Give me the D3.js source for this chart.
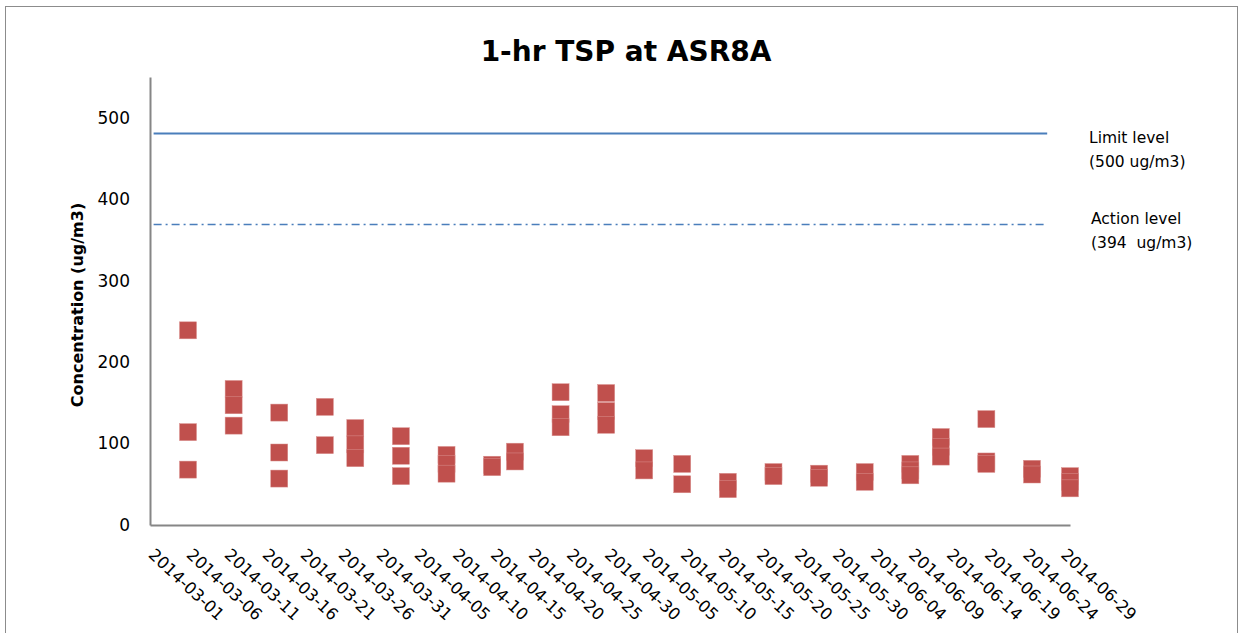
<!DOCTYPE html>
<html>
<head>
<meta charset="utf-8">
<script src="https://cdnjs.cloudflare.com/ajax/libs/d3/7.8.5/d3.min.js"></script>
<style>
  body { margin: 0; background: #fff; }
  svg text { font-family: "DejaVu Sans", sans-serif; }
</style>
</head>
<body>
<svg id="chart" width="1242" height="633"></svg>
<script>
// sampling days and up to three 1-hr readings per day (ug/m3)
var sampleDates = ["2014-03-06", "2014-03-12", "2014-03-18", "2014-03-24", "2014-03-28",
                   "2014-04-03", "2014-04-09", "2014-04-15", "2014-04-18", "2014-04-24",
                   "2014-04-30", "2014-05-05", "2014-05-10", "2014-05-16", "2014-05-22",
                   "2014-05-28", "2014-06-03", "2014-06-09", "2014-06-13", "2014-06-19",
                   "2014-06-25", "2014-06-30"];
var reading1 = [239, 167, 138, 145, 119, 109, 86, 74, 90, 163, 162, 82, 75, 53, 65, 63, 65, 75, 108, 130, 69, 60];
var reading2 = [114, 147, 89, 98, 99, 85, 75, 71, 78, 136, 140, 67, 50, 44, 60, 58, 53, 67, 96, 78, 62, 53];
var reading3 = [68, 122, 57, null, 82, 60, 63, null, null, 120, 123, null, null, null, null, null, null, 61, 84, 75, null, 45];

var xTickLabels = ["2014-03-01", "2014-03-06", "2014-03-11", "2014-03-16", "2014-03-21",
                   "2014-03-26", "2014-03-31", "2014-04-05", "2014-04-10", "2014-04-15",
                   "2014-04-20", "2014-04-25", "2014-04-30", "2014-05-05", "2014-05-10",
                   "2014-05-15", "2014-05-20", "2014-05-25", "2014-05-30", "2014-06-04",
                   "2014-06-09", "2014-06-14", "2014-06-19", "2014-06-24", "2014-06-29"];
var yTicks = [0, 100, 200, 300, 400, 500];

// reference lines as drawn on the chart
var levelNames = ["limit", "action"];
var levelValues = [481, 369];
var levelLabels = [["Limit level", "(500 ug/m3)"], ["Action level", "(394  ug/m3)"]];
var levelSpan = ["2014-03-02", "2014-06-27"];

var parse = d3.utcParse("%Y-%m-%d");
var svg = d3.select("#chart");

svg.append("rect")
    .attr("x", 5.5).attr("y", 6.5)
    .attr("width", 1232).attr("height", 640)
    .attr("fill", "none").attr("stroke", "#8c8c8c").attr("stroke-width", 1);

var x = d3.scaleUtc()
    .domain([parse("2014-03-01"), parse("2014-06-30")])
    .range([150, 1070]);
var y = d3.scaleLinear().domain([0, 550]).range([525, 77]);

svg.append("text")
    .attr("x", 626).attr("y", 61)
    .attr("text-anchor", "middle")
    .attr("font-size", 28).attr("font-weight", "bold")
    .text("1-hr TSP at ASR8A");

// y axis
var yAxis = svg.append("g")
    .attr("transform", "translate(150,0)")
    .call(d3.axisLeft(y).tickValues(yTicks).tickSize(0).tickPadding(20));
yAxis.select(".domain").attr("stroke", "#868686").attr("stroke-width", 2);
yAxis.selectAll("text").attr("font-size", 17).attr("fill", "#000")
    .attr("font-family", "DejaVu Sans");

svg.append("text")
    .attr("transform", "translate(83,305) rotate(-90)")
    .attr("text-anchor", "middle")
    .attr("font-size", 16).attr("font-weight", "bold")
    .text("Concentration (ug/m3)");

// x axis
var xAxis = svg.append("g")
    .attr("transform", "translate(0,525)")
    .call(d3.axisBottom(x).tickValues(xTickLabels.map(parse)).tickSize(0)
        .tickFormat(d3.utcFormat("%Y-%m-%d")));
xAxis.select(".domain").attr("stroke", "#868686").attr("stroke-width", 2);
xAxis.selectAll(".tick text")
    .attr("font-size", 16.5).attr("fill", "#000")
    .attr("font-family", "DejaVu Sans")
    .attr("text-anchor", "start")
    .attr("dy", 0).attr("y", 0)
    .attr("transform", "translate(-3,31) rotate(43)");

// reference lines
var labelShift = [9, -1];
levelNames.forEach(function(name, i) {
  var ly = Math.round(y(levelValues[i])) + 0.5;
  var line = svg.append("line")
      .attr("x1", x(parse(levelSpan[0])) - 4).attr("x2", x(parse(levelSpan[1])))
      .attr("y1", ly).attr("y2", ly)
      .attr("stroke", "#4a7ebb");
  if (name == "limit") {
    line.attr("stroke-width", 2);
  } else {
    line.attr("stroke-width", 1.3).attr("stroke-dasharray", "8,4,2,4");
  }
  var lx = i == 0 ? 1089 : 1091;
  var lab = svg.append("text")
      .attr("x", lx)
      .attr("y", ly + labelShift[i])
      .attr("font-size", 15.5)
      .style("white-space", "pre");
  lab.selectAll("tspan").data(levelLabels[i]).enter().append("tspan")
      .attr("x", lx)
      .attr("dy", function(d, j) { return j == 0 ? 0 : 24.5; })
      .text(function(d) { return d; });
});

// readings
var points = [];
[reading1, reading2, reading3].forEach(function(series) {
  series.forEach(function(v, i) {
    if (v != null) points.push({ date: parse(sampleDates[i]), value: v });
  });
});

var s = 17;
svg.append("g").selectAll("rect").data(points).enter().append("rect")
    .attr("x", function(d) { return x(d.date) - s / 2; })
    .attr("y", function(d) { return y(d.value) - s / 2; })
    .attr("width", s).attr("height", s)
    .attr("fill", "#c0504d")
    .attr("stroke", "#d9908e").attr("stroke-width", 0.5);
</script>
</body>
</html>
